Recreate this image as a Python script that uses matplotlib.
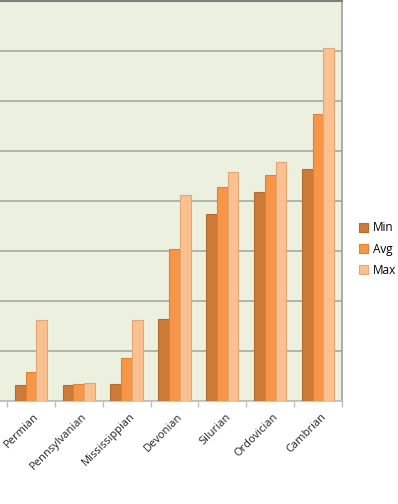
import numpy as np
import matplotlib.pyplot as plt

periods = ['Permian', 'Pennsylvanian', 'Mississippian', 'Devonian',
           'Silurian', 'Ordovician', 'Cambrian']
min_vals = [0.33, 0.33, 0.35, 1.64, 3.75, 4.18, 4.64]
avg_vals = [0.59, 0.34, 0.86, 3.05, 4.28, 4.52, 5.75]
max_vals = [1.63, 0.36, 1.63, 4.13, 4.58, 4.78, 7.06]

colors = ['#CC7B38', '#F79646', '#FAC090']
edges = ['#B8692C', '#E2823A', '#E3A676']

fig = plt.figure(figsize=(3.98, 5.04), dpi=100)
ax = fig.add_axes([0, 0.2034, 0.859, 0.7946])
ax.set_facecolor('#EBF1DE')

x = np.arange(len(periods))
w = 0.226
for i, (vals, lab) in enumerate(zip([min_vals, avg_vals, max_vals], ['Min', 'Avg', 'Max'])):
    # light shadow behind bars
    ax.bar(x + (i - 1) * w + 0.02, vals, w, bottom=-0.02, color='#C9CDB8',
           alpha=0.5, zorder=2, linewidth=0)
    ax.bar(x + (i - 1) * w, vals, w, color=colors[i], edgecolor=edges[i],
           linewidth=0.8, label=lab, zorder=3)

ax.set_xlim(-0.5 - 7 / 47.9, 6.5)
ax.set_ylim(0, 8)
ax.set_yticks(np.arange(0, 9, 1))
ax.yaxis.grid(True, color='#A8AA9E', linewidth=1.2, zorder=1)
ax.tick_params(axis='y', length=0, labelleft=False)

ax.set_xticks(x + 0.06)
ax.set_xticklabels(periods, rotation=45, ha='right', va='top',
                   rotation_mode='anchor', fontsize=8, family='Open Sans',
                   color='#222222')
ax.tick_params(axis='x', which='major', length=0, pad=7)
ax.set_xticks(np.arange(-0.5, 7, 1), minor=True)
ax.tick_params(axis='x', which='minor', length=4, color='#BFBFBF', width=1)

ax.spines['left'].set_visible(False)
ax.spines['top'].set_color('#7F7F7F')
ax.spines['top'].set_linewidth(1.5)
ax.spines['right'].set_color('#A0A0A0')
ax.spines['right'].set_linewidth(1.2)
ax.spines['bottom'].set_color('#BFBFBF')
ax.spines['bottom'].set_linewidth(1.2)

fig.legend(loc='center left', bbox_to_anchor=(348 / 398, 1 - 249 / 504),
           frameon=False, handlelength=0.8, handleheight=0.8,
           handletextpad=0.4, labelspacing=0.7,
           prop={'family': 'Open Sans', 'size': 8.5})

fig.savefig('out.png', dpi=100)
